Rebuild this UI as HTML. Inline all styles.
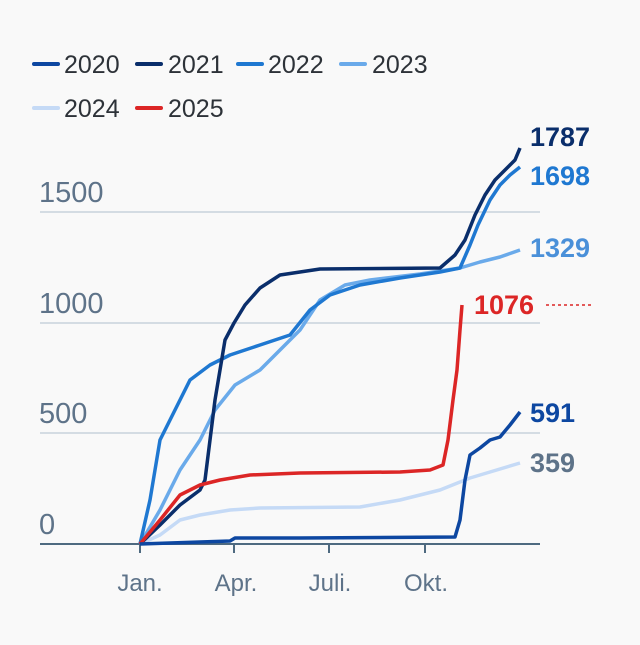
<!DOCTYPE html>
<html><head><style>body{margin:0;background:#f9f9f9}</style></head><body>
<svg width="640" height="640" xmlns="http://www.w3.org/2000/svg" font-family="Liberation Sans, sans-serif">
<rect width="640" height="640" fill="#f9f9f9"/>
<g font-size="25" fill="#2d3238">
<line x1="34" y1="64" x2="58" y2="64" stroke="#0d47a1" stroke-width="4" stroke-linecap="round"/><text x="64" y="73">2020</text>
<line x1="137" y1="64" x2="161" y2="64" stroke="#0a2e6b" stroke-width="4" stroke-linecap="round"/><text x="168" y="73">2021</text>
<line x1="238" y1="64" x2="262" y2="64" stroke="#1f78d1" stroke-width="4" stroke-linecap="round"/><text x="268" y="73">2022</text>
<line x1="341" y1="64" x2="365" y2="64" stroke="#6aaaea" stroke-width="4" stroke-linecap="round"/><text x="372" y="73">2023</text>
<line x1="34" y1="108" x2="58" y2="108" stroke="#c5daf6" stroke-width="4" stroke-linecap="round"/><text x="64" y="117">2024</text>
<line x1="137" y1="108" x2="161" y2="108" stroke="#dc2626" stroke-width="4" stroke-linecap="round"/><text x="168" y="117">2025</text>
</g>
<g stroke="#c8d2dc" stroke-width="1.5"><line x1="40" y1="212" x2="540" y2="212"/><line x1="40" y1="323" x2="540" y2="323"/><line x1="40" y1="433" x2="540" y2="433"/></g>
<g font-size="29" fill="#5e7389"><text x="39" y="202">1500</text><text x="39" y="313">1000</text><text x="39" y="423">500</text><text x="39" y="534">0</text></g>
<line x1="40" y1="544" x2="540" y2="544" stroke="#4e6a80" stroke-width="2"/>
<g stroke="#4e6a80" stroke-width="2"><line x1="140" y1="544" x2="140" y2="553"/><line x1="234" y1="544" x2="234" y2="553"/><line x1="329" y1="544" x2="329" y2="553"/><line x1="425" y1="544" x2="425" y2="553"/></g>
<g font-size="24" fill="#5e7389" text-anchor="middle"><text x="140" y="591">Jan.</text><text x="236" y="591">Apr.</text><text x="330" y="591">Juli.</text><text x="426" y="591">Okt.</text></g>
<g fill="none" stroke-width="3.5" stroke-linejoin="round">
<polyline stroke="#c5daf6" points="140,544 160,535 180,520 200,515 230,510 260,508 360,507 400,500 420,495 440,490 470,478 490,472 520,463"/>
<polyline stroke="#6aaaea" points="140,544 160,510 180,470 200,440 215,410 235,385 260,370 280,350 300,330 320,300 345,285 370,280 420,274 460,268 480,262 500,257 520,250"/>
<polyline stroke="#1f78d1" points="140,544 150,500 160,440 175,410 190,380 210,365 230,355 260,345 290,335 310,310 330,295 360,285 400,278 440,272 460,268 470,245 478,225 490,200 500,185 510,175 520,167"/>
<polyline stroke="#0a2e6b" points="140,544 160,525 180,505 200,490 205,480 215,400 225,340 234,323 245,305 260,288 280,275 320,269 440,268 455,255 465,240 475,215 485,195 495,180 505,170 515,160 520,148"/>
<polyline stroke="#dc2626" points="140,544 160,520 180,495 200,485 220,480 250,475 300,473 400,472 430,470 443,465 448,440 453,400 457,370 460,330 462,305"/>
<polyline stroke="#0d47a1" points="140,544 170,543 230,541 235,538 300,538 455,537 460,520 465,480 470,455 480,448 490,440 500,437 510,425 520,412"/>
</g>
<line x1="546" y1="305" x2="592" y2="305" stroke="#dc2626" stroke-width="1.5" stroke-dasharray="3,3"/>
<g font-size="27" font-weight="bold">
<text x="530" y="146" fill="#0a2e6b">1787</text>
<text x="530" y="185" fill="#1f78d1">1698</text>
<text x="530" y="257" fill="#4a90d9">1329</text>
<text x="474" y="314" fill="#dc2626">1076</text>
<text x="530" y="422" fill="#0d47a1">591</text>
<text x="530" y="472" fill="#5e7389">359</text>
</g>
</svg>
</body></html>
